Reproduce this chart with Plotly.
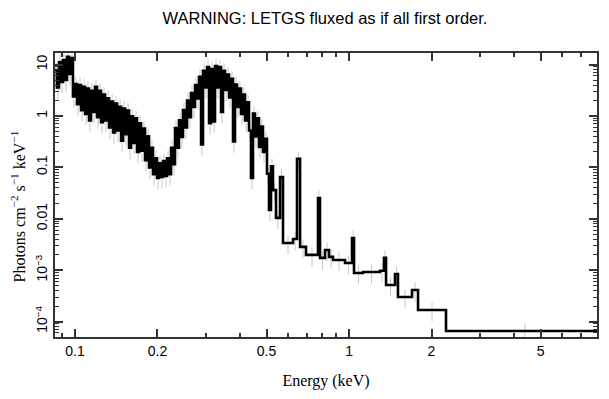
import math
import plotly.graph_objects as go

# ---- data (bin left edges in keV, flux in photons cm^-2 s^-1 keV^-1) ----
energy_lo = [
    0.0845, 0.0859, 0.0874, 0.0889, 0.0904, 0.0919, 0.0935, 0.0951, 0.0967, 0.0983,
    0.1000, 0.1017, 0.1034, 0.1052, 0.1070, 0.1088, 0.1106, 0.1125, 0.1144, 0.1163,
    0.1183, 0.1203, 0.1224, 0.1244, 0.1265, 0.1287, 0.1309, 0.1331, 0.1354, 0.1377,
    0.1400, 0.1424, 0.1448, 0.1473, 0.1498, 0.1523, 0.1549, 0.1575, 0.1602, 0.1629,
    0.1656, 0.1684, 0.1713, 0.1742, 0.1771, 0.1801, 0.1832, 0.1863, 0.1894, 0.1926,
    0.1959, 0.1992, 0.2026, 0.2060, 0.2095, 0.2131, 0.2167, 0.2203, 0.2241, 0.2279,
    0.2317, 0.2356, 0.2396, 0.2437, 0.2478, 0.2520, 0.2563, 0.2606, 0.2650, 0.2695,
    0.2742, 0.2788, 0.2835, 0.2884, 0.2932, 0.2982, 0.3033, 0.3084, 0.3136, 0.3189,
    0.3243, 0.3298, 0.3354, 0.3411, 0.3468, 0.3527, 0.3587, 0.3648, 0.3710, 0.3773,
    0.3836, 0.3901, 0.3967, 0.4034, 0.4103, 0.4172, 0.4243, 0.4315, 0.4388, 0.4462,
    0.4538, 0.4615, 0.4693, 0.4772, 0.4853, 0.4935, 0.5019, 0.5105, 0.5191,
    0.5279, 0.5415, 0.5601, 0.5742, 0.6247, 0.6459, 0.6628, 0.6967, 0.7705, 0.7837,
    0.8174, 0.8452, 0.8742, 0.9670, 1.0255, 1.043, 1.125, 1.298, 1.342, 1.365,
    1.472, 1.509, 1.698, 1.786, 2.259,
]
energy_last_edge = 8.5

flux = [
    7.85, 3.6, 11.2, 4.6, 12.3, 5.0, 14.1, 6.6, 13.4, 2.4,
    4.2, 1.7, 4.0, 1.3, 3.7, 1.1, 3.4, 0.82, 3.1, 1.2,
    3.7, 0.95, 3.1, 0.76, 2.6, 0.82, 2.2, 0.6, 1.9, 0.48,
    1.75, 0.52, 1.5, 0.33, 1.4, 0.44, 1.28, 0.24, 0.98, 0.3,
    0.9, 0.2, 0.72, 0.21, 0.57, 0.138, 0.4, 0.1, 0.24, 0.074,
    0.15, 0.062, 0.12, 0.065, 0.132, 0.068, 0.15, 0.074, 0.24, 0.115,
    0.58, 0.24, 0.82, 0.39, 1.3, 0.6, 2.0, 0.95, 2.8, 1.5,
    4.0, 2.2, 5.8, 0.28, 7.6, 3.6, 9.0, 0.72, 8.2, 0.78,
    9.4, 3.6, 9.0, 1.2, 7.6, 3.2, 6.4, 2.3, 5.3, 0.32,
    4.1, 1.5, 3.4, 1.1, 2.6, 0.82, 1.85, 0.52, 0.062, 1.12,
    0.4, 0.9, 0.25, 0.62, 0.2, 0.36, 0.075, 0.0148, 0.105,
    0.036, 0.0104, 0.065, 0.00338, 0.00404, 0.146, 0.00283, 0.00198, 0.0254, 0.00173,
    0.00247, 0.00181, 0.00158, 0.00138, 0.00423, 0.00088, 0.00092, 0.00097, 0.00173, 0.000515,
    0.00084, 0.000301, 0.000412, 0.000168, 0.0000656,
]

x_tick_vals = [0.1, 0.2, 0.5, 1, 2, 5]
x_tick_text = ["0.1", "0.2", "0.5", "1", "2", "5"]
y_tick_vals = [10, 1, 0.1, 0.01, 0.001, 0.0001]
y_tick_text = ["10", "1", "0.1", "0.01", "10<sup>\u22123</sup>", "10<sup>\u22124</sup>"]

# ---- build step arrays ----
edges = energy_lo + [energy_last_edge]
x_step = edges
y_step = flux + [flux[-1]]
centers = [math.sqrt(a * b) for a, b in zip(edges[:-1], edges[1:])]

fig = go.Figure()
fig.add_trace(go.Scatter(
    x=centers, y=flux, mode="markers",
    marker=dict(size=1, color="rgba(0,0,0,0)"),
    error_y=dict(type="percent", value=40, color="#c8c8c8", thickness=1, width=0),
    hoverinfo="skip", showlegend=False,
))
fig.add_trace(go.Scatter(
    x=x_step, y=y_step, mode="lines",
    line=dict(color="black", width=2.6, shape="hv"),
    showlegend=False,
))

x_minor = [0.09, 0.3, 0.4, 0.6, 0.7, 0.8, 0.9, 3, 4, 6, 7, 8]
y_minor = [k * 10 ** e for e in range(-5, 2) for k in range(2, 10)]

axis_col = "#333333"
# page body adds an 8px margin; the figure is sized/offset to compensate
fig.update_layout(
    width=601, height=391,
    margin=dict(l=47, r=12, t=45, b=62, autoexpand=False),
    paper_bgcolor="white", plot_bgcolor="white",
    title=dict(text="WARNING: LETGS fluxed as if all first order.",
               font=dict(family="Liberation Sans", size=16.5, color="black"),
               x=0.5275, xanchor="center", y=0.973, yanchor="middle"),
    xaxis=dict(
        type="log", range=[-1.073, 0.905], automargin=False,
        tickvals=x_tick_vals, ticktext=x_tick_text,
        ticks="inside", ticklen=8, tickwidth=1.5, tickcolor=axis_col,
        showline=True, linecolor=axis_col, linewidth=2, mirror="ticks",
        showgrid=False, zeroline=False,
        minor=dict(tickvals=x_minor, ticks="inside", ticklen=4, tickwidth=1.5,
                   tickcolor=axis_col, showgrid=False),
        tickfont=dict(family="Liberation Sans", size=14, color="black"),
        title=dict(text="Energy (keV)", standoff=17,
                   font=dict(family="Liberation Serif", size=16, color="black")),
    ),
    yaxis=dict(
        type="log", range=[math.log10(5.0e-5), math.log10(16.8)], automargin=False,
        tickvals=y_tick_vals, ticktext=y_tick_text, tickangle=-90,
        ticks="inside", ticklen=8, tickwidth=1.5, tickcolor=axis_col,
        showline=True, linecolor=axis_col, linewidth=2, mirror="ticks",
        showgrid=False, zeroline=False,
        minor=dict(tickvals=y_minor, ticks="inside", ticklen=4, tickwidth=1,
                   tickcolor=axis_col, showgrid=False),
        tickfont=dict(family="Liberation Sans", size=14, color="black"),
    ),
    annotations=[dict(
        text="Photons cm<sup>\u22122</sup> s<sup>\u22121</sup> keV<sup>\u22121</sup>",
        xref="paper", yref="paper", x=-0.068, y=0.46,
        xanchor="center", yanchor="middle", textangle=-90, showarrow=False,
        font=dict(family="Liberation Serif", size=16, color="black"),
    )],
)

fig.write_html("out.html")
